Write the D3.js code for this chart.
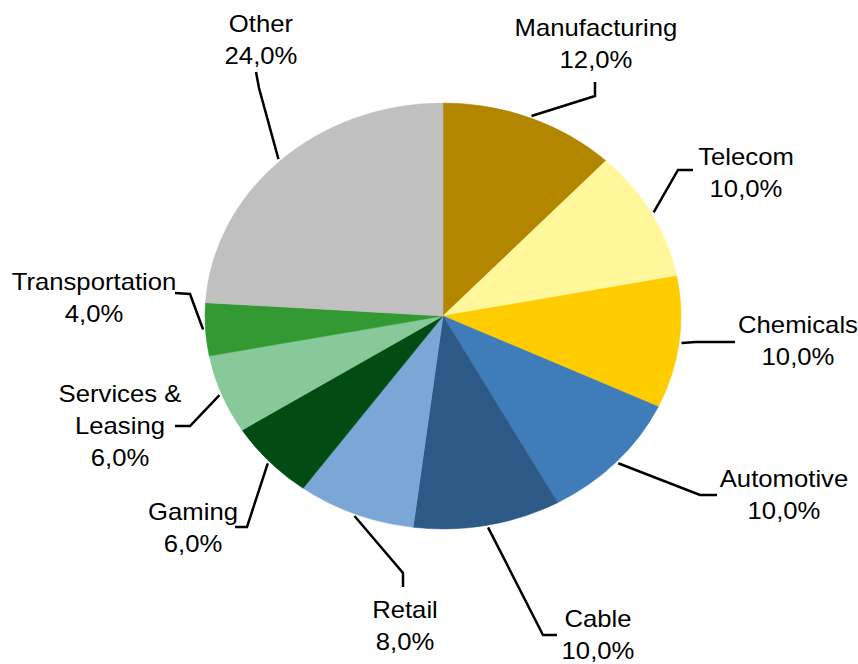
<html>
<head>
<script src="https://cdnjs.cloudflare.com/ajax/libs/d3/7.8.5/d3.min.js"></script>
<style>
body {
   margin: 0;
   background: #fff;
}
text {
   font-family: "Liberation Sans", Arial, sans-serif;
   font-size: 23px;
   fill: #000;
}
</style>
</head>
<body>
<svg id="canvas" width="858" height="664"></svg>
<script>

var sectors = ['Manufacturing', 'Telecom', 'Chemicals', 'Automotive', 'Cable', 'Retail', 'Gaming', 'Services & Leasing', 'Transportation', 'Other'];
var shares = [12, 10, 10, 10, 10, 8, 6, 6, 4, 24];
var colours = ['#b38600', '#fff799', '#ffcc00', '#3f7cba', '#2c5986', '#7ba7d7', '#004c12', '#88c999', '#339933', '#c0c0c0'];
var labelLines = [['Manufacturing'], ['Telecom'], ['Chemicals'], ['Automotive'], ['Cable'], ['Retail'], ['Gaming'], ['Services &', 'Leasing'], ['Transportation'], ['Other']];

// label anchor (centre x, first baseline y) plus elbow and end of the leader line, in page pixels
var labelPos = [
  {tx: 596, ty: 36,  elbow: [595, 96],  end: [595, 82]},
  {tx: 746, ty: 165, elbow: [678, 170], end: [693, 170]},
  {tx: 798, ty: 333, elbow: [696, 342], end: [735, 342]},
  {tx: 784, ty: 487, elbow: [700, 495], end: [717, 495]},
  {tx: 598, ty: 627, elbow: [543, 635], end: [557, 635]},
  {tx: 405, ty: 618, elbow: [403, 573], end: [403, 587]},
  {tx: 193, ty: 520, elbow: [247, 527], end: [235, 527]},
  {tx: 120, ty: 402, elbow: [190, 426], end: [175, 426]},
  {tx: 94,  ty: 290, elbow: [190, 294], end: [175, 293]},
  {tx: 261, ty: 32,  elbow: [259, 88],  end: [256, 72]}
];

// the picture is stretched sideways, so draw in a squeezed frame and scale x back up
var sx = 238 / 213;
var r = 213;
var cx = 443 / sx, cy = 316;
var lineH = 32;

var fmt = function(v) { return d3.format('.1f')(v).replace('.', ',') + '%'; };

var data = sectors.map(function(s, i) { return {name: s, value: shares[i], idx: i}; });

var pie = d3.pie().sort(null).value(function(d) { return d.value; });
var arc = d3.arc().innerRadius(0).outerRadius(r);
var edge = d3.arc().innerRadius(r * 1.01).outerRadius(r * 1.01);

var root = d3.select('#canvas').append('g').attr('transform', 'scale(' + sx + ',1)');
var pieG = root.append('g').attr('transform', 'translate(' + cx + ',' + cy + ')');

var arcs = pie(data);

pieG.selectAll('.slice')
  .data(arcs)
  .enter()
  .append('path')
  .attr('class', 'slice')
  .attr('d', arc)
  .style('fill', function(d) { return colours[d.data.idx]; })
  .style('stroke', function(d) { return colours[d.data.idx]; })
  .style('stroke-width', 0.5);

// leader lines from the middle of each slice's rim
root.selectAll('.leader')
  .data(arcs)
  .enter()
  .append('polyline')
  .attr('class', 'leader')
  .attr('points', function(d) {
    var p = edge.centroid(d);
    var lp = labelPos[d.data.idx];
    return [[cx + p[0], cy + p[1]], [lp.elbow[0] / sx, lp.elbow[1]], [lp.end[0] / sx, lp.end[1]]].join(' ');
  })
  .style('fill', 'none')
  .style('stroke', '#000')
  .style('stroke-width', 2.5)
  .style('vector-effect', 'non-scaling-stroke');

var labels = root.selectAll('.label')
  .data(data)
  .enter()
  .append('text')
  .attr('class', 'label')
  .attr('text-anchor', 'middle');

labels.each(function(d) {
  var lp = labelPos[d.idx];
  var lines = labelLines[d.idx].concat([fmt(d.value)]);
  var t = d3.select(this);
  lines.forEach(function(l, k) {
    t.append('tspan')
      .attr('x', lp.tx / sx)
      .attr('y', lp.ty + k * lineH)
      .text(l);
  });
});

</script>
</body>
</html>
